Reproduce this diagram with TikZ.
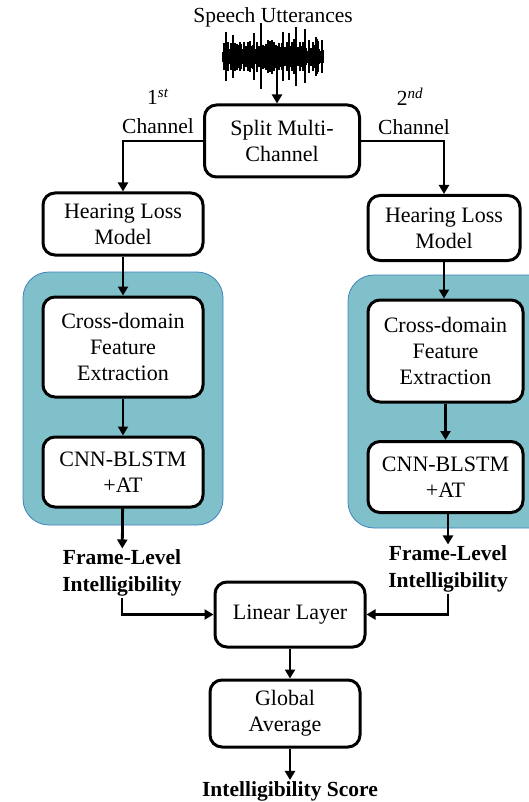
\documentclass[tikz,border=0pt]{standalone}
\usepackage{fontspec}
\setmainfont{Liberation Serif}
\usetikzlibrary{arrows.meta}
\definecolor{panelfill}{RGB}{128,192,202}
\definecolor{paneledge}{RGB}{60,130,190}
\tikzset{
  blk/.style={draw=black, line width=3pt, rounded corners=12pt, fill=white, align=center, font=\fontsize{22}{26}\selectfont, inner sep=2pt},
  panel/.style={fill=panelfill, draw=paneledge, line width=0.8pt, rounded corners=26pt},
  arr/.style={line width=2.8pt, -{Triangle[width=10pt,length=9pt]}},
  lbl/.style={align=center, font=\fontsize{21.5}{26}\selectfont, inner sep=1pt},
  blbl/.style={align=center, font=\fontsize{21.5}{27}\selectfont\bfseries, inner sep=1pt},
}
\begin{document}
\begin{tikzpicture}[x=1pt,y=-1pt]
\useasboundingbox (0,0) rectangle (529,802);
\clip (0,0) rectangle (529,802);
% panels
\draw[panel] (23,272) rectangle (223,525);
\draw[panel] (348,275) rectangle (560,528);
% title and waveform
\node[lbl] (title) at (273,17) {Speech Utterances};
\foreach \i in {0,...,100}{
  \pgfmathsetmacro{\amp}{5+12*abs(sin(\i*97.3)*cos(\i*41.7))+ (mod(\i,7)==3 ? 14*abs(sin(\i*31)) : 0) + (mod(\i,11)==5 ? 18*abs(cos(\i*17)) : 0)}
  \draw[line width=1.2pt] (223+\i,57-\amp) -- (223+\i,57+\amp*0.95);
}
\coordinate (wv) at (277,68);
% channel labels
\node[lbl] (c1a) at (158,97) {1\textsuperscript{\textit{st}}};
\node[lbl] (c1b) at (158,126) {Channel};
\node[lbl] (c2a) at (410,97) {2\textsuperscript{\textit{nd}}};
\node[lbl] (c2b) at (414,127) {Channel};
% boxes
\node[blk, minimum width=155pt, minimum height=72pt] (split) at (282,141) {Split Multi-\\Channel};
\node[blk, minimum width=160pt, minimum height=62pt] (hl1) at (123,224) {Hearing Loss\\Model};
\node[blk, minimum width=152pt, minimum height=65pt] (hl2) at (444,228) {Hearing Loss\\Model};
\node[blk, minimum width=160pt, minimum height=100pt] (fe1) at (123,347) {Cross-domain\\Feature\\Extraction};
\node[blk, minimum width=155pt, minimum height=102pt] (fe2) at (445.5,351) {Cross-domain\\Feature\\Extraction};
\node[blk, minimum width=160pt, minimum height=70pt] (cnn1) at (123,472) {CNN-BLSTM\\+AT};
\node[blk, minimum width=155pt, minimum height=71pt] (cnn2) at (445.5,477) {CNN-BLSTM\\+AT};
\node[blbl] (fl1) at (122,573) {Frame-Level\\Intelligibility};
\node[blbl] (fl2) at (448,569) {Frame-Level\\Intelligibility};
\node[blk, minimum width=150pt, minimum height=65pt] (lin) at (290,614.5) {Linear Layer};
\node[blk, minimum width=150pt, minimum height=67pt] (glob) at (285,713.5) {Global\\Average};
\node[blbl] (score) at (290,791) {Intelligibility Score};
% connectors
\draw[arr] (wv) -- (wv |- split.north);
\draw[arr] (split.west) -| (hl1.north);
\draw[arr] (split.east) -| (hl2.north);
\draw[arr] (hl1) -- (fe1);
\draw[arr] (hl2) -- (hl2 |- fe2.north);
\draw[arr] (fe1) -- (cnn1);
\draw[arr] (fe2) -- (cnn2);
\draw[arr] (cnn1) -- (fl1);
\draw[arr] (cnn2.south -| fl2) -- (fl2);
\draw[arr] (fl1.south) |- (lin.west);
\draw[arr] (fl2.south) |- (lin.east);
\draw[arr] (lin.south) -- (lin.south |- glob.north);
\draw[arr] (lin.south |- glob.south) -- (lin.south |- score.north);
\end{tikzpicture}
\end{document}
